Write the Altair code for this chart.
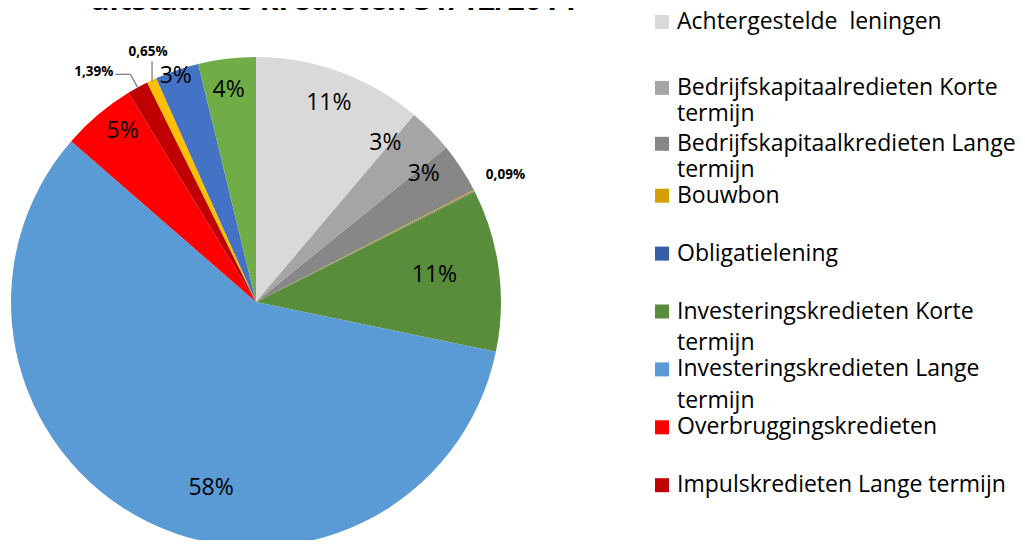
import altair as alt
import pandas as pd

# ---- data ----
names = [
    "Achtergestelde\u00a0 leningen",
    "Bedrijfskapitaalredieten Korte termijn",
    "Bedrijfskapitaalkredieten Lange termijn",
    "Bouwbon",
    "Obligatielening",
    "Investeringskredieten Korte termijn",
    "Investeringskredieten Lange termijn",
    "Overbruggingskredieten",
    "Impulskredieten Lange termijn",
    "Impulskredieten Korte termijn",
    "Winwinleningen",
    "Overige kredieten",
]
shares = [11.2, 3.0, 3.3, 0.09, 0.05, 10.7, 58.3, 4.9, 1.39, 0.65, 2.9, 3.8]
labels = ["11%", "3%", "3%", "0,09%", "", "11%", "58%", "5%", "1,39%", "0,65%", "3%", "4%"]
colors = ["#D9D9D9", "#A5A5A5", "#878787", "#D4A000", "#345EA8", "#588E3B",
          "#5B9BD5", "#FF0000", "#C00000", "#FFC000", "#4472C4", "#70AD47"]
legend_count = 9  # entries that fit in the visible legend
title_text = "uitstaande kredieten 31/12/2014"

FONT = "Open Sans"
FS = 23
CX, CY, R = 248, 294, 245

df = pd.DataFrame({"idx": list(range(len(names))), "name": names,
                   "share": shares, "label": labels})
color_scale = alt.Scale(domain=names, range=colors)

base = (
    alt.Chart(df)
    .transform_window(cum="sum(share)", sort=[alt.SortField("idx")], frame=[None, 0])
    .transform_joinaggregate(total="sum(share)")
    .transform_calculate(mid="(datum.cum - datum.share/2) / datum.total * 2 * PI")
)

pie = alt.Chart(df).mark_arc(outerRadius=R).encode(
    theta=alt.Theta("share:Q", stack=True),
    order=alt.Order("idx:Q"),
    color=alt.Color("name:N", scale=color_scale, legend=None),
    x=alt.value(CX),
    y=alt.value(CY),
)


def polar(r):
    return dict(px=f"{CX} + {r} * sin(datum.mid)", py=f"{CY} - {r} * cos(datum.mid)")


def pie_label(i, r, dx=0, dy=0, size=FS, bold=False, align="center"):
    return (
        base.transform_filter(f"datum.idx == {i}")
        .transform_calculate(**polar(r))
        .mark_text(font=FONT, fontSize=size, fontWeight="bold" if bold else "normal",
                   align=align, baseline="middle", dx=dx, dy=dy, color="#000000")
        .encode(x=alt.X("px:Q", scale=None), y=alt.Y("py:Q", scale=None), text="label:N")
    )


def leader(i, r1, r2=None, hx=0, vy=0):
    r_end = r1 if r2 is None else r2
    calc = {
        "x1": f"{CX} + {r1} * sin(datum.mid)",
        "y1": f"{CY} - {r1} * cos(datum.mid)",
        "x2": f"{CX} + {r_end} * sin(datum.mid) + {hx}",
        "y2": f"{CY} - {r_end} * cos(datum.mid) + {vy}",
    }
    return (
        base.transform_filter(f"datum.idx == {i}")
        .transform_calculate(**calc)
        .mark_rule(color="#7F7F7F", strokeWidth=1.3)
        .encode(x=alt.X("x1:Q", scale=None), y=alt.Y("y1:Q", scale=None),
                x2="x2:Q", y2="y2:Q")
    )


pie_labels = [
    pie_label(0, 212),
    pie_label(1, 205, dx=-17, dy=-16),
    pie_label(2, 205, dx=-4, dy=-16),
    pie_label(3, 280, size=13.5, bold=True),
    pie_label(5, 180, dy=-4),
    pie_label(6, 191, dx=40, dy=15),
    pie_label(7, 216, dx=6, dy=-6),
    pie_label(10, 239, dx=-3),
    pie_label(11, 214, dx=-2),
    pie_label(8, 260, dx=-17, dy=-2, size=13.5, bold=True, align="right"),
    pie_label(9, 244, dx=-4, dy=-29, size=13.5, bold=True),
]
leaders = [
    leader(8, 244, 260),
    leader(8, 260, 260, hx=-15),
    leader(9, 244, vy=-20),
]

leg = (
    alt.Chart(df)
    .transform_filter(f"datum.idx < {legend_count}")
    .transform_calculate(
        ly="14 + datum.idx * 57.9 + (datum.idx == 1 ? 8 : datum.idx == 2 ? 6 : 0)",
        wrap="length(datum.name) > 30",
    )
    .transform_calculate(
        ly2="datum.ly + (datum.idx < 3 ? 26.5 : 31.5)",
        l1="datum.wrap ? substring(datum.name, 0, lastindexof(datum.name, ' ')) : datum.name",
        l2="datum.wrap ? substring(datum.name, lastindexof(datum.name, ' ') + 1) : ''",
    )
)
leg_sq = leg.mark_square(size=196, opacity=1).encode(
    x=alt.value(654), y=alt.Y("ly:Q", scale=None),
    color=alt.Color("name:N", scale=color_scale, legend=None),
)
leg_t1 = leg.mark_text(font=FONT, fontSize=FS, align="left", baseline="middle",
                       color="#000000").encode(
    x=alt.value(669), y=alt.Y("ly:Q", scale=None), text="l1:N")
leg_t2 = leg.mark_text(font=FONT, fontSize=FS, align="left", baseline="middle",
                       color="#000000").encode(
    x=alt.value(669), y=alt.Y("ly2:Q", scale=None), text="l2:N")

title = alt.Chart(pd.DataFrame({"t": [title_text]})).mark_text(
    font=FONT, fontSize=30, fontWeight="bold", align="center", baseline="alphabetic",
    color="#000000",
).encode(x=alt.value(325), y=alt.value(2), text="t:N")

chart = (
    alt.layer(pie, *leaders, *pie_labels, leg_sq, leg_t1, leg_t2, title)
    .properties(width=1009, height=532, padding=0,
                autosize=alt.AutoSizeParams(type="none"), background="#FFFFFF")
    .configure_view(stroke=None)
)

chart.save("out.html", embed_options={"renderer": "svg", "actions": False})
